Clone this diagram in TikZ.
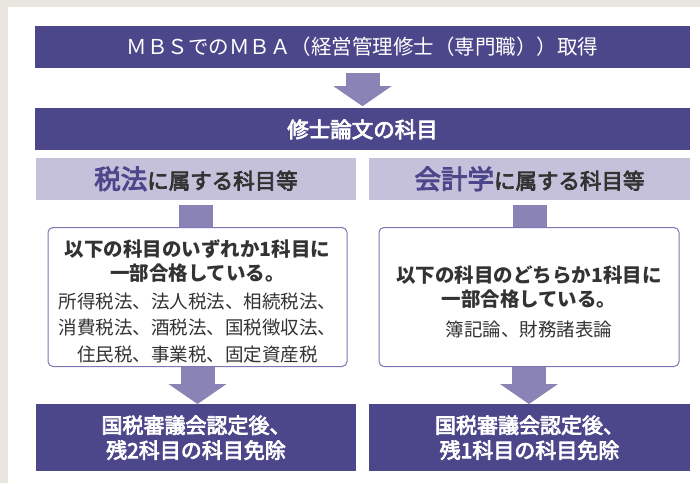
\documentclass[tikz,border=0pt]{standalone}
\usepackage{fontspec}
\setmainfont{Noto Sans CJK JP}
\newfontfamily\medfont[FakeBold=3.5]{Noto Sans CJK JP}
\usepackage{tikz}
\usetikzlibrary{positioning}
\usetikzlibrary{arrows.meta}
\definecolor{barc}{HTML}{4B478A}
\definecolor{headc}{HTML}{C5C1DB}
\definecolor{arrowc}{HTML}{8A83B5}
\definecolor{framec}{HTML}{7B77B2}
\definecolor{beigec}{HTML}{E9E5DF}
\definecolor{textc}{HTML}{333333}

\begin{document}
\begin{tikzpicture}
[
x=1pt, y=1pt,
bar-a/.style={rectangle,fill=barc,text=white,minimum height=42pt,inner sep=0pt},
head-a/.style={rectangle,fill=headc,text=textc,minimum height=42pt,inner sep=0pt,
               font=\medfont\fontsize{21.5}{26}\selectfont},
box-a/.style={rectangle,rounded corners=5pt,draw=framec,line width=1pt,fill=white,
              minimum height=139pt,inner sep=0pt},
res-a/.style={rectangle,fill=barc,text=white,minimum height=67pt,inner sep=0pt,align=center,
              font=\medfont\fontsize{21}{25}\selectfont},
text-a/.style={text=textc,align=center,inner sep=0pt,font=\fontsize{18.5}{26.5}\selectfont},
flow-a/.style={draw=arrowc,line width=34pt,-{Triangle[length=20pt,width=58pt,line width=0pt]}},
stub-a/.style={draw=arrowc,line width=34pt},
]
\fill [beigec] (0,0) rectangle (700,-483);
\fill [white]  (8,-7) rectangle (700,-483);

\node (mbs)    [bar-a, minimum width=655pt, font=\fontsize{20.5}{24}\selectfont] at (362.5,-47)
               {ＭＢＳでのＭＢＡ（経営管理修士（専門職））取得};
\node (thesis) [bar-a, minimum width=655pt, below=40pt of mbs, font=\medfont\fontsize{21.5}{26}\selectfont]
               {修士論文の科目};
\node (hzei)   [head-a, minimum width=320pt, below right=7pt and 1pt of thesis.south west]
               {{\color{barc}\fontsize{26.5}{30}\selectfont 税法}に属する科目等};
\node (hkai)   [head-a, minimum width=321pt, below left=7pt and 0pt of thesis.south east]
               {{\color{barc}\fontsize{26.5}{30}\selectfont 会計学}に属する科目等};
\node (bzei)   [box-a, minimum width=299pt, below=27pt of hzei, xshift=1.5pt] {};
\node (bkai)   [box-a, minimum width=300pt, below=27pt of hkai, xshift=-0.5pt] {};
\node (tzei)   [text-a] at ([yshift=-4pt]bzei.center)
               {{\bfseries\fontsize{19.5}{24}\selectfont 以下の科目のいずれか1科目に}\\[-2.5pt]
                {\bfseries\fontsize{19.5}{24}\selectfont 一部合格している。}\\[1.5pt]
                所得税法、法人税法、相続税法、\\
                消費税法、酒税法、国税徴収法、\\
                住民税、事業税、固定資産税};
\node (tkai)   [text-a] at ([yshift=-4.5pt]bkai.center)
               {{\bfseries\fontsize{19.5}{24}\selectfont 以下の科目のどちらか1科目に}\\[-2.5pt]
                {\bfseries\fontsize{19.5}{24}\selectfont 一部合格している。}\\[3.5pt]
                簿記論、財務諸表論};
\node (rzei)   [res-a, minimum width=320pt, below=37pt of bzei, xshift=-1.5pt]
               {国税審議会認定後、\\残2科目の科目免除};
\node (rkai)   [res-a, minimum width=321pt, below=37pt of bkai, xshift=0.5pt]
               {国税審議会認定後、\\残1科目の科目免除};

\draw [flow-a] ([yshift=-5pt]mbs.south) -- ([yshift=2pt]thesis.north);
\draw [stub-a] ([yshift=-5pt]hzei.south) -- (hzei.south |- bzei.north);
\draw [stub-a] ([yshift=-5pt]hkai.south) -- (hkai.south |- bkai.north);
\draw [flow-a] (bzei.south) -- (bzei.south |- rzei.north);
\draw [flow-a] (bkai.south) -- (bkai.south |- rkai.north);
\end{tikzpicture}
\end{document}
